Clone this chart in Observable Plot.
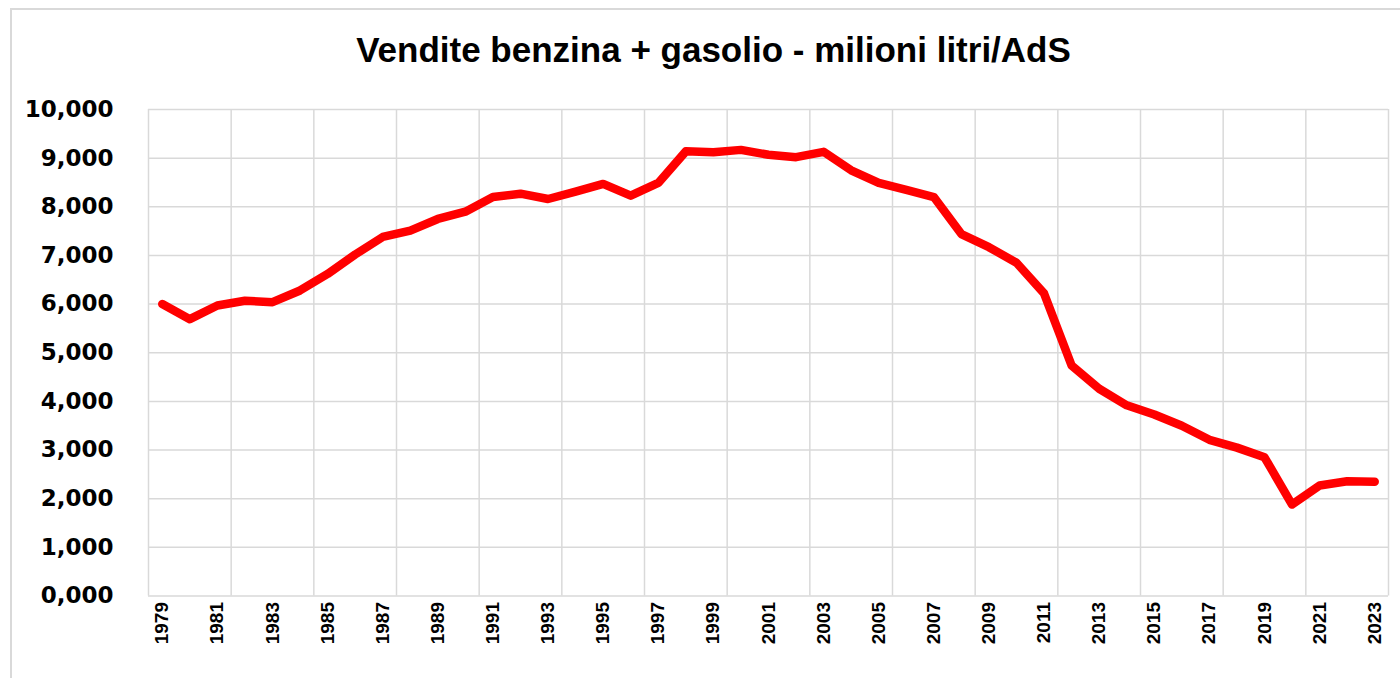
<!DOCTYPE html>
<html>
<head>
<meta charset="utf-8">
<script src="https://cdn.jsdelivr.net/npm/d3@7"></script>
<script src="https://cdn.jsdelivr.net/npm/@observablehq/plot@0.6"></script>
<style>
  html, body { margin: 0; padding: 0; background: #fff; }
  #wrap { position: relative; width: 1400px; height: 678px; overflow: hidden; background: #fff; }
  #frame { position: absolute; left: 10px; top: 8px; width: 1420px; height: 700px; border: 2px solid #d9d9d9; box-sizing: border-box; pointer-events: none; }
  #title { position: relative; height: 95px; box-sizing: border-box; padding-top: 32px; padding-left: 27px;
           font-family: "Liberation Sans", Arial, sans-serif; font-weight: 700; font-size: 35px; line-height: 35px;
           text-align: center; color: #000; white-space: nowrap; }
  #chart svg text { fill: #000; }
</style>
</head>
<body>
<div id="wrap">
  <div id="frame"></div>
  <div id="title">Vendite benzina + gasolio - milioni litri/AdS</div>
  <div id="chart"></div>
</div>
<script>
const years = [1979,1980,1981,1982,1983,1984,1985,1986,1987,1988,1989,1990,1991,1992,1993,1994,1995,1996,1997,1998,1999,2000,2001,2002,2003,2004,2005,2006,2007,2008,2009,2010,2011,2012,2013,2014,2015,2016,2017,2018,2019,2020,2021,2022,2023];
const sales = [6000,5690,5970,6070,6040,6280,6620,7020,7380,7510,7750,7900,8200,8270,8160,8310,8470,8230,8490,9140,9120,9170,9070,9020,9130,8750,8490,8350,8200,7440,7170,6850,6220,4740,4260,3920,3730,3500,3210,3050,2850,1880,2270,2360,2350];
const yTicks = [0,1000,2000,3000,4000,5000,6000,7000,8000,9000,10000];
const yTickLabels = ["0,000","1,000","2,000","3,000","4,000","5,000","6,000","7,000","8,000","9,000","10,000"];
const xLabelYears = [1979,1981,1983,1985,1987,1989,1991,1993,1995,1997,1999,2001,2003,2005,2007,2009,2011,2013,2015,2017,2019,2021,2023];
const xGridBounds = [1978.5,1981.5,1984.5,1987.5,1990.5,1993.5,1996.5,1999.5,2002.5,2005.5,2008.5,2011.5,2014.5,2017.5,2020.5,2023.5];

const data = years.map((y, i) => ({year: y, value: sales[i]}));

const chart = Plot.plot({
  width: 1400,
  height: 583,
  marginLeft: 148,
  marginRight: 12,
  marginTop: 14,
  marginBottom: 82.5,
  style: {background: "#fff", overflow: "visible"},
  x: {domain: [1978.5, 2023.5], axis: null},
  y: {domain: [0, 10000], axis: null},
  marks: [
    Plot.gridX(xGridBounds, {stroke: "#d9d9d9", strokeOpacity: 1, strokeWidth: 1.5}),
    Plot.gridY(yTicks, {stroke: "#d9d9d9", strokeOpacity: 1, strokeWidth: 1.5}),
    Plot.axisY(yTicks, {
      label: null,
      tickSize: 0, tickPadding: 35,
      tickFormat: (d) => yTickLabels[yTicks.indexOf(d)],
      fontSize: 23, fontWeight: "bold", fontFamily: "'DejaVu Sans', Verdana, sans-serif", fill: "#000"
    }),
    Plot.axisX(xLabelYears, {
      label: null,
      tickSize: 0, tickPadding: 6, tickRotate: -90,
      tickFormat: (d) => String(d),
      fontSize: 19, fontWeight: "bold", fontFamily: "'Liberation Sans', Arial, sans-serif", fill: "#000"
    }),
    Plot.line(data, {x: "year", y: "value", stroke: "#ff0000", strokeWidth: 8.5, strokeLinejoin: "round", strokeLinecap: "round"})
  ]
});
document.getElementById("chart").appendChild(chart);
</script>
</body>
</html>
